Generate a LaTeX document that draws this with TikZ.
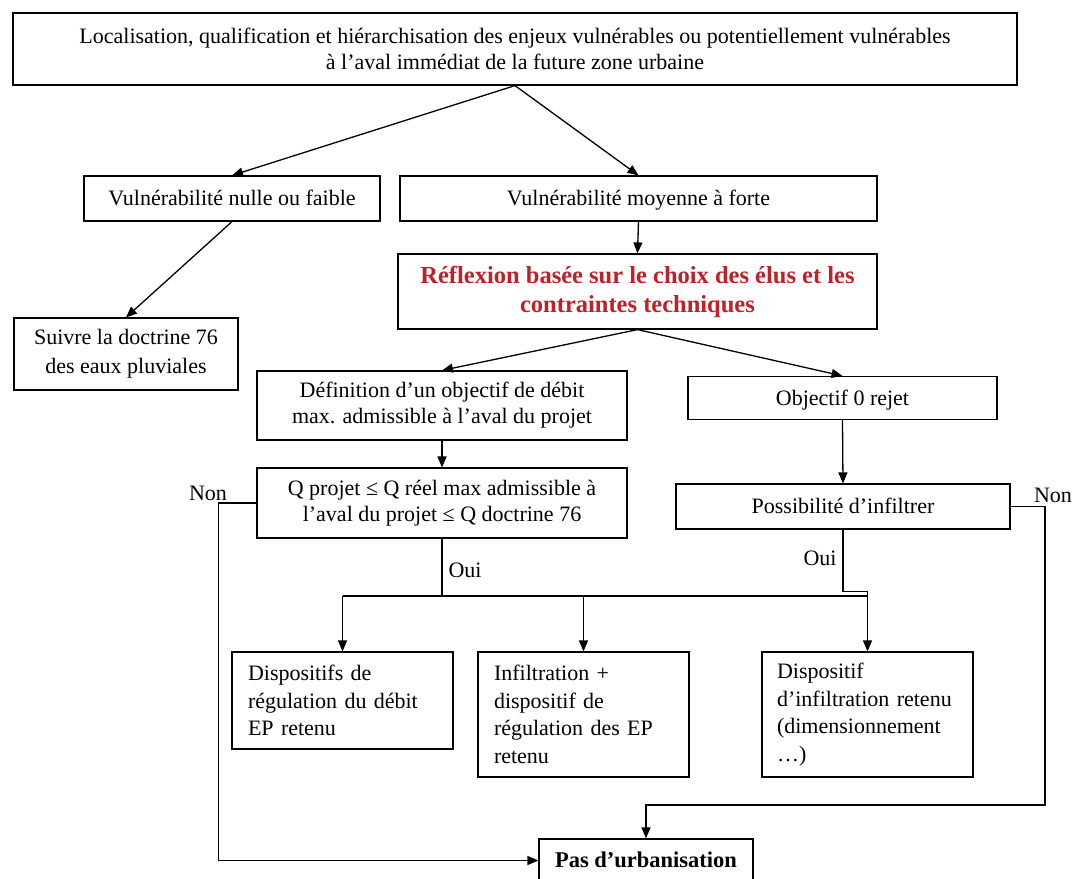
\documentclass[tikz,border=0pt]{standalone}
\usepackage{fontspec}
\setmainfont{Liberation Serif}
\usetikzlibrary{arrows.meta}
\definecolor{redtxt}{RGB}{192,32,40}
\begin{document}
\begin{tikzpicture}[x=1pt,y=-1pt,
  box/.style={draw, line width=1.2pt, inner sep=0pt, align=center,
    font=\fontsize{22}{26}\selectfont},
  single/.style={text height=17pt, text depth=3pt},
  lbox/.style={box, align=left, font=\fontsize{22}{27.5}\selectfont},
  conn/.style={line width=1.3pt},
  arr/.style={conn, -{Triangle[length=11pt,width=9pt]}},
  lbl/.style={inner sep=0pt, font=\fontsize{22}{26}\selectfont}]
\useasboundingbox (0,0) rectangle (1072,879);
\fill[white] (0,0) rectangle (1072,879);

\node[box, minimum width=1004pt, minimum height=72pt] (top) at (515,49)
  {Localisation, qualification et hiérarchisation des enjeux vulnérables ou potentiellement vulnérables\\à l’aval immédiat de la future zone urbaine};
\node[box, single, minimum width=296pt, minimum height=45pt] (vnulle) at (232,198.5)
  {Vulnérabilité nulle ou faible};
\node[box, single, minimum width=477pt, minimum height=45pt] (vmoy) at (638.5,198.5)
  {Vulnérabilité moyenne à forte};
\node[box, minimum width=479pt, minimum height=75pt, text=redtxt,
  font=\fontsize{24.5}{29}\selectfont\bfseries] (refl) at (637.5,291.5)
  {Réflexion basée sur le choix des élus et les\\contraintes techniques};
\node[box, minimum width=224pt, minimum height=72pt,
  font=\fontsize{22}{29}\selectfont] (suivre) at (126,354)
  {Suivre la doctrine 76\\des eaux pluviales};
\node[box, minimum width=370pt, minimum height=69pt] (defin) at (442,405.5)
  {Définition d’un objectif de débit\\max. admissible à l’aval du projet};
\node[box, single, minimum width=309pt, minimum height=43pt] (obj) at (842.5,398)
  {Objectif 0 rejet};
\node[box, minimum width=370pt, minimum height=70pt] (qproj) at (442,503)
  {Q projet ≤ Q réel max admissible à\\l’aval du projet ≤ Q doctrine 76};
\node[box, single, minimum width=334pt, minimum height=45pt] (poss) at (843,506.5)
  {Possibilité d’infiltrer};
\node[lbox, minimum width=221pt, minimum height=97pt, text width=189pt] (disp1) at (342.5,700.5)
  {Dispositifs de\\régulation du débit\\EP retenu};
\node[lbox, minimum width=211pt, minimum height=125pt, text width=179pt] (infil) at (583.5,714.5)
  {Infiltration +\\dispositif de\\régulation des EP\\retenu};
\node[lbox, minimum width=211pt, minimum height=125pt, text width=181pt] (disp2) at (867.5,714.5)
  {Dispositif\\d’infiltration retenu\\(dimensionnement\\…)};
\node[box, single, minimum width=214pt, minimum height=43pt,
  font=\fontsize{22.5}{26}\selectfont\bfseries] (pas) at (646,860.5)
  {Pas d’urbanisation};

\node[lbl] (non1) at (208,493) {Non};
\node[lbl] (non2) at (1053,495) {Non};
\node[lbl] (oui1) at (465,570) {Oui};
\node[lbl] (oui2) at (820,558) {Oui};

\draw[arr] (top.south) -- (vnulle.north);
\draw[arr] (top.south) -- (vmoy.north);
\draw[arr] (vnulle.south) -- (suivre.north);
\draw[arr] (vmoy.south) -- (refl.north);
\draw[arr] (refl.south) -- (defin.north);
\draw[arr] (refl.south) -- (obj.north);
\draw[arr] (defin.south) -- (qproj.north);
\draw[arr] (obj.south) -- (poss.north);

\coordinate (oj) at (442,596);
\draw[conn] (qproj.south) -- (oj);
\draw[conn] (disp1.north |- oj) -- (disp2.north |- oj);
\draw[arr] (disp1.north |- oj) -- (disp1.north);
\draw[arr] (infil.north |- oj) -- (infil.north);
\draw[arr] (poss.south) -- ++(0,62) -| (disp2.north);

\draw[arr] (qproj.west) -- ++(-38,0) |- (pas.west);
\coordinate (nr) at (1045,805);
\draw[arr] (poss.east) -- (poss.east -| nr) -- (nr) -| (pas.north);
\end{tikzpicture}
\end{document}
